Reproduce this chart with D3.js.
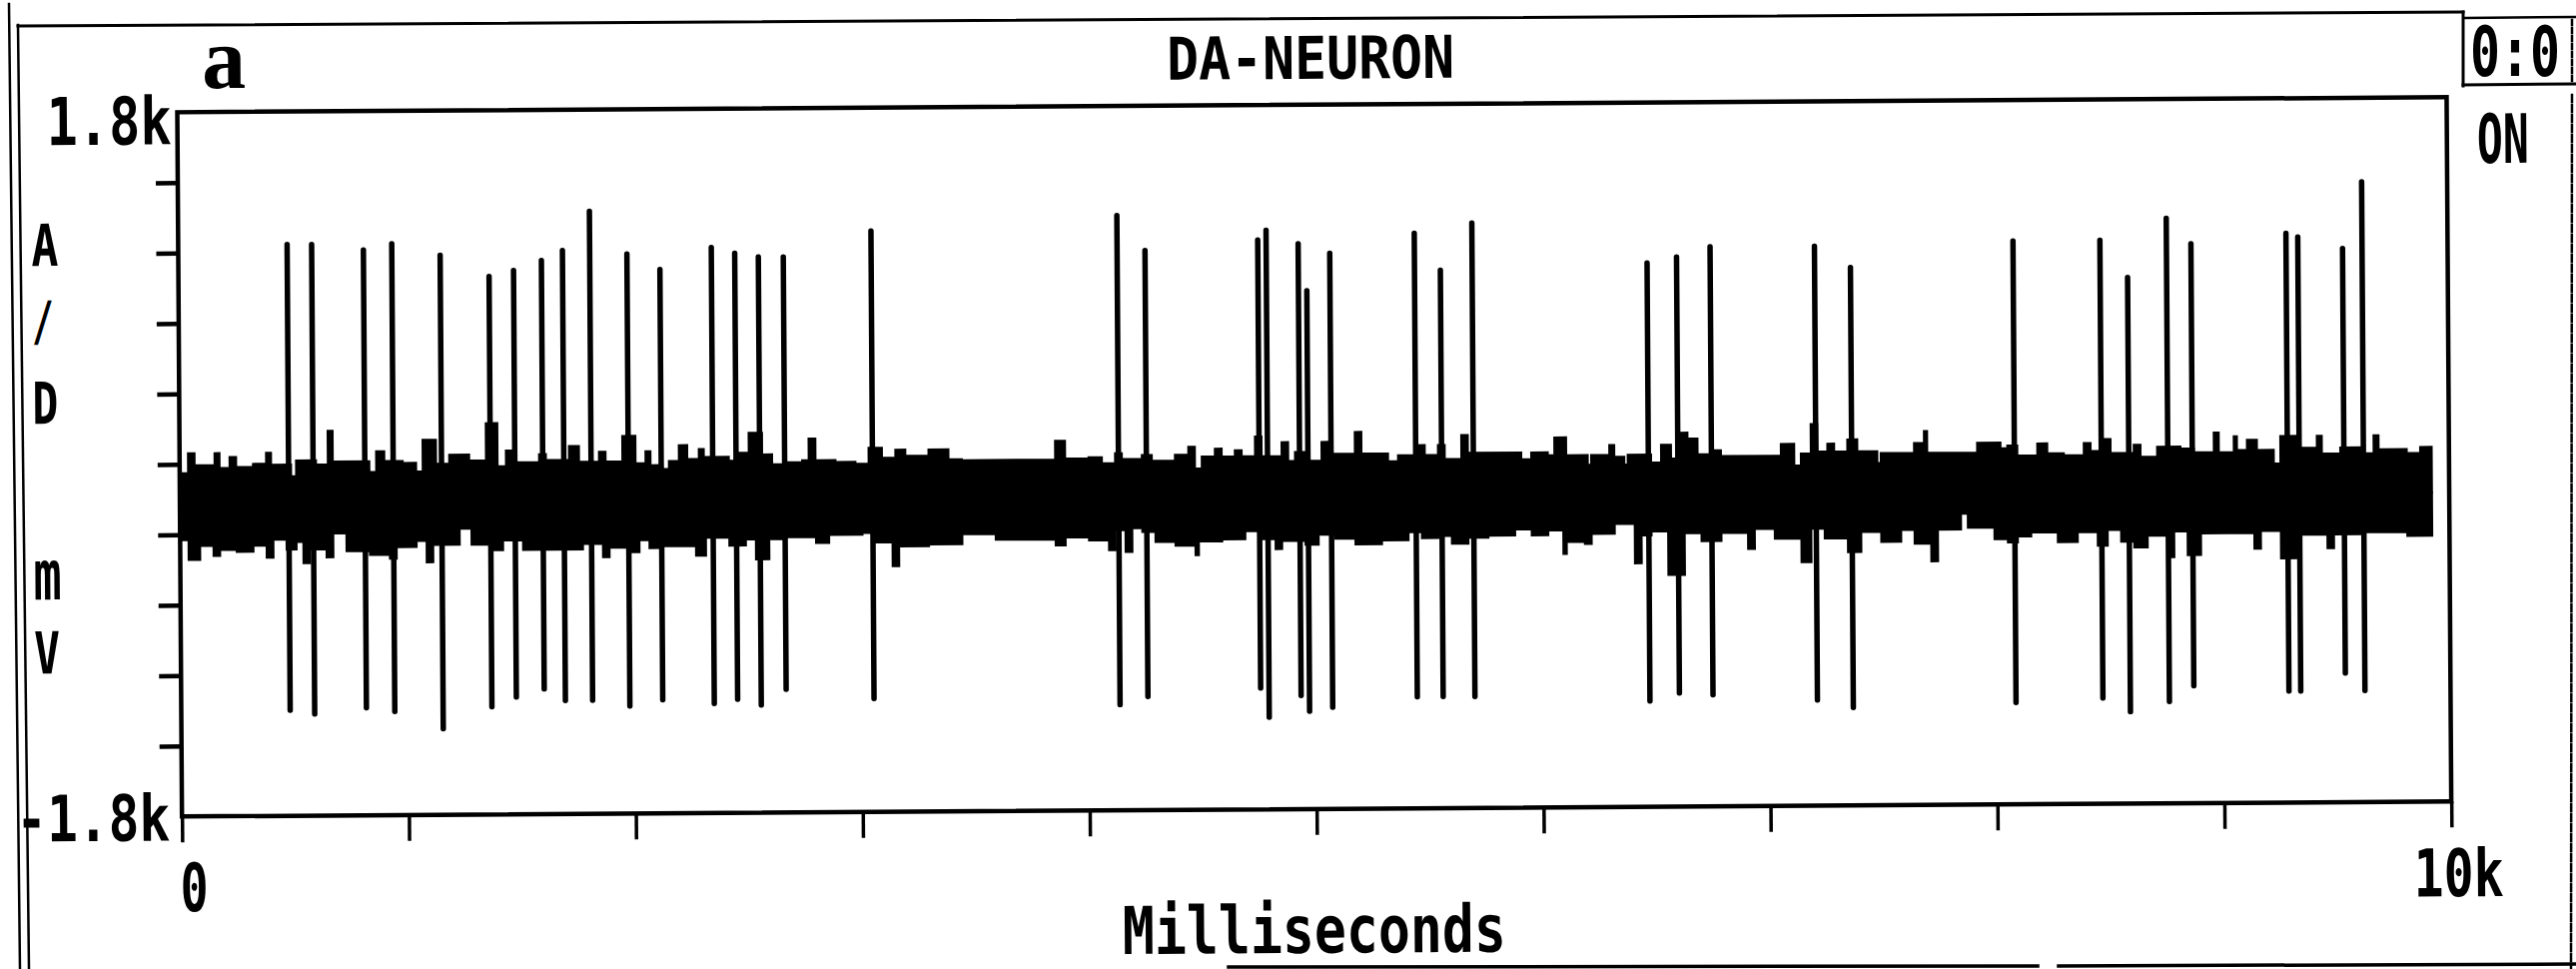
<!DOCTYPE html>
<html><head><meta charset="utf-8">
<script src="https://cdn.jsdelivr.net/npm/d3@7"></script>
<style>html,body{margin:0;padding:0;background:#fff;} svg{display:block;background:#fff}</style>
</head><body>
<svg id="chart" width="2579" height="970"></svg>
<script>
// ---------------- DATA ----------------
const spikeT = [480,588,816,941,1154,1369,1477,1600,1693,1813,1977,2122,2349,2452,2556,2666,3053,4137,4260,4757,4794,4935,4972,5074,5447,5561,5701,6472,6602,6750,7210,7368,8085,8468,8589,8761,8869,9288,9340,9537,9623];
const spikePeak = [1120,1120,1090,1120,1060,950,980,1030,1080,1280,1060,980,1090,1060,1040,1040,1170,1240,1060,1110,1160,1090,850,1040,1140,950,1190,980,1010,1060,1060,950,1080,1080,890,1190,1060,1110,1090,1030,1370];
const spikeTrough = [-1260,-1280,-1250,-1270,-1360,-1250,-1200,-1160,-1220,-1220,-1250,-1220,-1240,-1220,-1250,-1170,-1220,-1260,-1220,-1180,-1330,-1220,-1300,-1280,-1230,-1230,-1230,-1260,-1220,-1230,-1260,-1300,-1280,-1260,-1330,-1280,-1200,-1230,-1230,-1140,-1230];

// upper edge of the noise band (ms, A/D units)
const bandUpperT = [0,37,66,154,176,220,249,323,381,403,491,513,601,653,675,836,866,902,983,1042,1071,1130,1188,1276,1350,1401,1438,1467,1584,1614,1716,1760,1848,1877,1951,2009,2053,2075,2127,2156,2200,2237,2288,2310,2420,2464,2508,2567,2611,2669,2743,2772,2802,2890,2978,3036,3095,3154,3198,3300,3388,3447,3858,3902,4005,4064,4122,4152,4240,4284,4386,4445,4474,4504,4562,4592,4650,4680,4739,4768,4856,4885,4915,4973,5032,5061,5179,5208,5325,5369,5443,5487,5545,5575,5648,5677,5912,5956,6029,6058,6110,6205,6220,6300,6322,6366,6381,6484,6528,6572,6616,6645,6689,6748,6792,7056,7115,7144,7188,7217,7261,7291,7349,7393,7481,7496,7643,7687,7701,7921,8024,8054,8098,8186,8230,8303,8391,8421,8479,8509,8611,8641,8714,8817,8876,8964,8986,9052,9066,9110,9154,9228,9257,9345,9418,9440,9521,9609,9668,9690,9814,9873,9924];
const bandUpperV = [-45,56,-5,56,-20,36,-15,0,56,-5,-65,16,-5,167,10,-45,60,10,0,-45,117,-5,40,10,200,-20,60,0,40,10,80,0,50,0,130,-10,51,-20,-40,0,81,10,61,20,0,41,142,31,-20,-10,0,111,0,-10,-20,61,10,51,20,51,0,-5,91,0,5,-25,25,-5,15,-15,15,56,-55,5,45,5,36,5,106,5,76,-20,25,-20,76,15,126,15,-25,5,56,5,56,-15,106,15,-20,15,0,91,0,-50,0,50,-10,-50,0,-40,50,-20,111,81,0,20,-10,50,-60,0,151,10,50,10,71,10,-50,0,50,111,0,50,20,34,-17,44,-7,-17,44,3,64,-7,34,-27,23,13,-7,94,-7,74,3,55,3,-67,74,13,74,-17,13,-17,74,3,-17,13,13];
// lower edge of the noise band
const bandLowerT = [0,37,88,147,176,249,323,381,411,469,513,543,572,645,675,733,836,924,954,1042,1086,1115,1232,1284,1364,1423,1511,1775,1863,1892,1980,2024,2068,2127,2273,2317,2420,2493,2537,2596,2669,2802,2860,3007,3066,3139,3168,3300,3447,3594,3858,3902,4005,4093,4122,4166,4196,4240,4298,4386,4474,4489,4592,4694,4768,4827,4856,4959,5017,5091,5179,5296,5413,5472,5545,5604,5677,5765,5883,5956,6029,6095,6110,6190,6220,6322,6410,6440,6484,6557,6630,6704,6792,6909,6939,7027,7144,7188,7247,7349,7408,7496,7584,7643,7716,7746,7848,7878,7995,8054,8098,8157,8274,8362,8450,8494,8553,8611,8670,8758,8787,8846,8905,9140,9169,9257,9345,9462,9491,9609,9814,9924];
const bandLowerV = [-388,-489,-418,-469,-439,-449,-418,-480,-388,-439,-400,-509,-439,-480,-358,-449,-469,-489,-430,-400,-509,-420,-338,-420,-449,-400,-449,-420,-489,-440,-464,-403,-444,-434,-484,-393,-434,-403,-505,-403,-393,-423,-383,-373,-423,-545,-444,-434,-383,-413,-444,-403,-419,-470,-368,-480,-358,-378,-429,-449,-499,-429,-419,-378,-419,-470,-429,-449,-398,-419,-449,-429,-388,-419,-409,-449,-419,-409,-378,-409,-384,-505,-444,-454,-403,-353,-555,-413,-393,-616,-403,-444,-403,-485,-384,-434,-555,-384,-434,-505,-403,-454,-393,-464,-555,-393,-313,-384,-444,-461,-431,-411,-461,-411,-481,-400,-461,-491,-431,-542,-411,-532,-421,-501,-411,-552,-431,-501,-431,-421,-441,-441];
const bandCore = -220;

const yTickValues = [-1440,-1080,-720,-360,0,360,720,1080,1440];
const xTickValues = [0,1000,2000,3000,4000,5000,6000,7000,8000,9000,10000];
const yTickLabels = ["1.8k","-1.8k"];
const yTickLabelValues = [1800,-1800];
const xTickLabels = ["0","10k"];
const xTickLabelValues = [0,10000];
const chartTitle = "DA-NEURON";
const xAxisTitle = "Milliseconds";
const yAxisTitleChars = ["A","/","D","m","V"];
const panelLetter = "a";
const statusText = "ON";
const counterText = "0:0";

// ---------------- LAYOUT ----------------
const W = 2579, H = 970;
const P = {left:180, right:2452, top:105, bottom:810};
const MONO = "'DejaVu Sans Mono', 'Liberation Mono', monospace";

const x = d3.scaleLinear().domain([0,10000]).range([P.left, P.right]);
const y = d3.scaleLinear().domain([-1800,1800]).range([P.bottom, P.top]);

const svg = d3.select("#chart");
svg.append("rect").attr("width",W).attr("height",H).attr("fill","#fff");

// outer (scanned) frame
const frame = svg.append("g").attr("stroke","#000").attr("fill","none").attr("stroke-linecap","square");
[[9,4,20,970,2.5],[18,25,29,970,2.5],[18,26,2466,12,3],[2466,12,2466,86,3],[2466,85,2579,84,3],[2468,18,2579,17,2.5],
 [1230,968,2040,967,3.5],[2061,967,2579,965,3.5]].forEach(l=>{
  frame.append("line").attr("x1",l[0]).attr("y1",l[1]).attr("x2",l[2]).attr("y2",l[3]).attr("stroke-width",l[4]);
});
frame.append("line").attr("x1",2575).attr("y1",95).attr("x2",2574).attr("y2",970)
  .attr("stroke-width",2.5).attr("stroke-dasharray","7,3");
frame.append("line").attr("x1",2575).attr("y1",20).attr("x2",2575).attr("y2",82)
  .attr("stroke-width",2.5).attr("stroke-dasharray","5,3");
// counter text inside its (un-tilted) box: narrow font-size, stretched vertically
svg.append("text").attr("transform","translate(2473,76) scale(1,1.25)").text(counterText)
  .attr("font-family",MONO).attr("font-weight","bold").attr("font-size",55)
  .attr("textLength",90).attr("lengthAdjust","spacingAndGlyphs").attr("fill","#000");

// rotated group (scan tilt)
const g = svg.append("g").attr("transform","rotate(-0.38,1290,485)");

// noise band
const upper = bandUpperT.map((t,i)=>({t, v:bandUpperV[i]}));
const lower = bandLowerT.map((t,i)=>({t, v:bandLowerV[i]}));
const bandArea = d3.area().x(d=>x(d.t)).y0(y(bandCore)).y1(d=>y(d.v)).curve(d3.curveStepAfter);
g.append("path").datum(upper).attr("d",bandArea).attr("fill","#000").attr("stroke","#000").attr("stroke-width",2);
g.append("path").datum(lower).attr("d",bandArea).attr("fill","#000").attr("stroke","#000").attr("stroke-width",2);

// spikes
const spikes = spikeT.map((t,i)=>({t, hi:spikePeak[i], lo:spikeTrough[i]}));
g.append("g").selectAll("line").data(spikes).join("line")
  .attr("x1",d=>x(d.t)).attr("x2",d=>x(d.t))
  .attr("y1",d=>y(d.hi)).attr("y2",d=>y(d.lo))
  .attr("stroke","#000").attr("stroke-width",5.5).attr("stroke-linecap","round");

// axes (ticks only)
const yAxis = g.append("g").attr("transform",`translate(${P.left},0)`)
  .call(d3.axisLeft(y).tickValues(yTickValues).tickSize(22).tickFormat(""));
yAxis.select(".domain").remove();
yAxis.selectAll(".tick line").attr("stroke","#000").attr("stroke-width",4.5);

const xAxis = g.append("g").attr("transform",`translate(0,${P.bottom})`)
  .call(d3.axisBottom(x).tickValues(xTickValues).tickSize(26).tickFormat(""));
xAxis.select(".domain").remove();
xAxis.selectAll(".tick line").attr("stroke","#000").attr("stroke-width",3.5);

// plot frame
g.append("rect").attr("x",P.left).attr("y",P.top)
  .attr("width",P.right-P.left).attr("height",P.bottom-P.top)
  .attr("fill","none").attr("stroke","#000").attr("stroke-width",4.5);

// texts
function txt(s, xx, yy, fs, len, opts={}) {
  const t = g.append("text").attr("x",xx).attr("y",yy).text(s)
    .attr("font-family", opts.family || MONO)
    .attr("font-weight","bold").attr("font-size",fs).attr("fill","#000");
  if (len) t.attr("textLength",len).attr("lengthAdjust","spacingAndGlyphs");
  return t;
}
// y tick labels
txt(yTickLabels[0], x(0)-131, y(yTickLabelValues[0])+32, 66, 125);
txt(yTickLabels[1], x(0)-166, y(yTickLabelValues[1])+24, 64, 154);
// x tick labels
txt(xTickLabels[0], x(xTickLabelValues[0])-2, P.bottom+95, 67, 28);
txt(xTickLabels[1], x(xTickLabelValues[1])-38, P.bottom+95, 66, 90);
// titles
txt(chartTitle, 1171, 79, 59, 288);
txt(xAxisTitle, 1121, 954, 66, 384);
txt(statusText, 2482, 171, 68, 52);
txt(panelLetter, 205, 81, 88, null, {family:"'Liberation Serif','Times New Roman',serif"});
// vertical y-axis title letters
const yLetterBase = [258,332,416,592,666];
const yLetterW = [27,22,26,28,26];
const yLetterFs = [58,54,58,70,58];
yAxisTitleChars.forEach((c,i)=>txt(c, 33, yLetterBase[i], yLetterFs[i], yLetterW[i]));
</script>
</body></html>
